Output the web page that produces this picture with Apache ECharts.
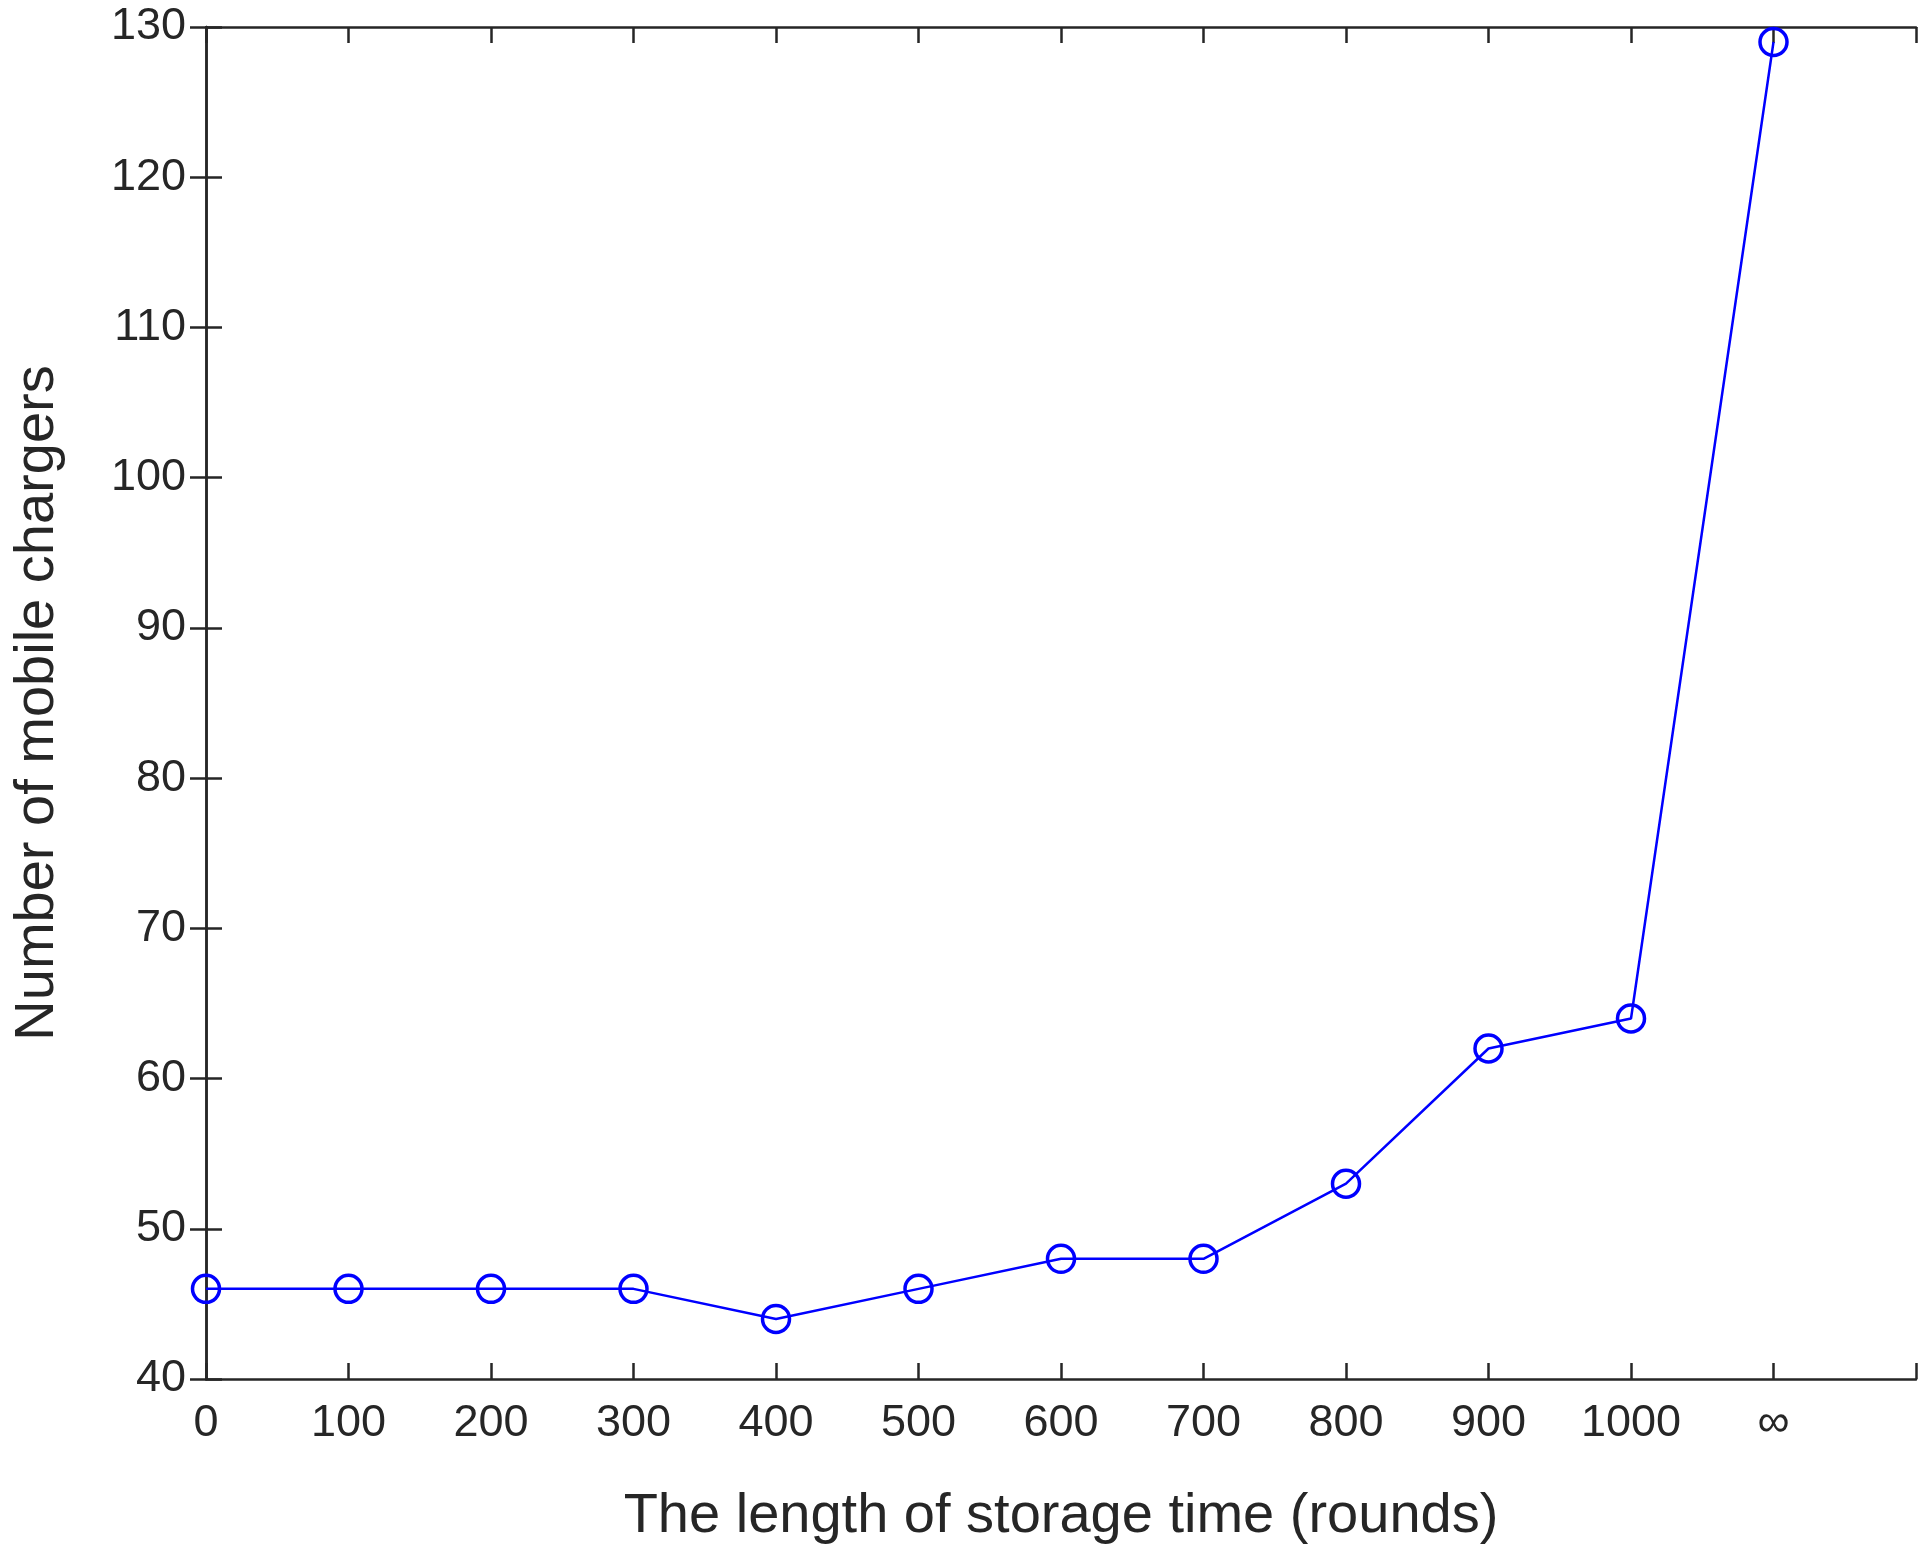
<!DOCTYPE html>
<html>
<head>
<meta charset="utf-8">
<script src="https://cdn.jsdelivr.net/npm/echarts@6/dist/echarts.min.js"></script>
<style>html,body{margin:0;padding:0;background:#fff}#chart{width:1932px;height:1559px}</style>
</head>
<body>
<div id="chart"></div>
<script>
// storage time in rounds; 1100 stands for the infinity position
const storageTime = [0, 100, 200, 300, 400, 500, 600, 700, 800, 900, 1000, 1100];
const chargers = [46, 46, 46, 46, 44, 46, 48, 48, 53, 62, 64, 129];
const xTickLabels = { 1100: '∞', 1200: '' };

const chart = echarts.init(document.getElementById('chart'));
const font = 'Liberation Sans, Arial, sans-serif';
const axisLine = () => ({ show: true, lineStyle: { color: '#262626', width: 2.5 } });
const tick = () => ({ show: true, inside: true, length: 16, lineStyle: { color: '#262626', width: 2.5 } });

chart.setOption({
	animation: false,
	grid: { left: 206, right: 16, top: 27, bottom: 180 },
	xAxis: [{
		type: 'value', min: 0, max: 1200, interval: 100,
		axisLine: axisLine(), axisTick: tick(), splitLine: { show: false },
		axisLabel: {
			fontFamily: font, fontSize: 45, color: '#262626', margin: 22,
			formatter: v => (v in xTickLabels ? xTickLabels[v] : String(v))
		},
		name: 'The length of storage time (rounds)', nameLocation: 'middle', nameGap: 110,
		nameTextStyle: { fontFamily: font, fontSize: 56, color: '#262626' }
	}, {
		type: 'value', position: 'top', min: 0, max: 1200, interval: 100,
		axisLine: axisLine(), axisTick: tick(), axisLabel: { show: false }, splitLine: { show: false }
	}],
	yAxis: [{
		type: 'value', position: 'left', min: 40, max: 130, interval: 10,
		axisLine: axisLine(), axisTick: tick(), splitLine: { show: false },
		axisLabel: { fontFamily: font, fontSize: 45, color: '#262626', margin: 20 },
		name: 'Number of mobile chargers', nameLocation: 'middle', nameGap: 140,
		nameTextStyle: { fontFamily: font, fontSize: 56, color: '#262626' }
	}, {
		type: 'value', position: 'right', min: 40, max: 130, interval: 10,
		axisLine: axisLine(), axisTick: tick(), axisLabel: { show: false }, splitLine: { show: false }
	}],
	series: [{
		type: 'line',
		data: storageTime.map((t, i) => [t, chargers[i]]),
		symbol: 'circle', symbolSize: 27,
		lineStyle: { color: '#0000ff', width: 2.5 },
		itemStyle: { color: 'rgba(0,0,0,0)', borderColor: '#0000ff', borderWidth: 3.5 }
	}]
});
</script>
</body>
</html>
